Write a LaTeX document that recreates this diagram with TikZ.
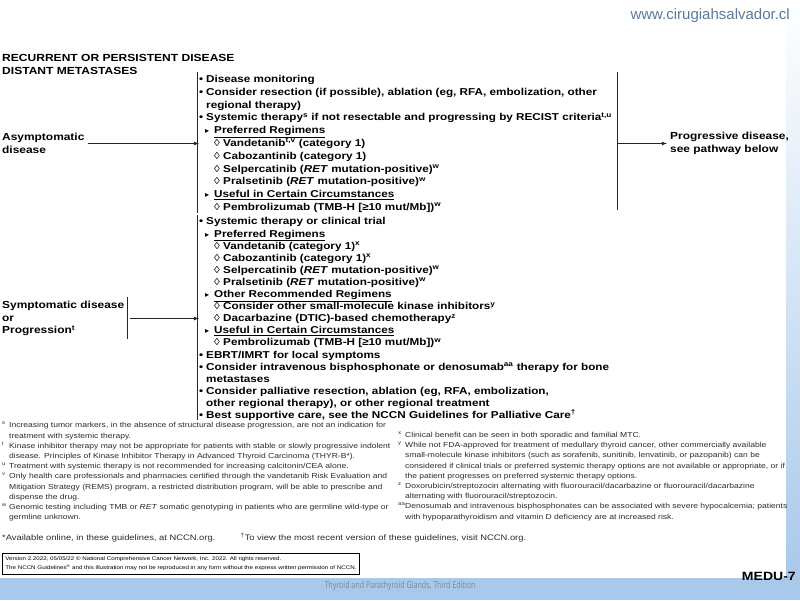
\documentclass[tikz,border=0pt]{standalone}
\usepackage{fontspec}
\setmainfont{Liberation Sans}[FakeStretch=1.17]
\newfontfamily\sitefont{Liberation Sans}
\newfontfamily\symfont{DejaVu Sans}
\newfontfamily\bandfont{Open Sans}[FakeStretch=0.75]
\usetikzlibrary{positioning}
\definecolor{urlblue}{HTML}{5A7A9A}
\definecolor{bandblue}{HTML}{A9C9EB}
\definecolor{bandtext}{HTML}{7F8790}
\definecolor{inkgray}{HTML}{2A2A2A}

\newcommand{\lvla}{\makebox[7pt][l]{•}}
\newcommand{\lvlb}{\hspace*{6pt}\makebox[9pt][l]{\symfont\fontsize{8}{8}\selectfont ▸}}
\newcommand{\lvlc}{\hspace*{15pt}\makebox[9pt][l]{\mdseries ◊}}
\newcommand{\cont}{\hspace*{7pt}}
\newcommand{\fn}[1]{\makebox[7pt][l]{\textsuperscript{#1}}}
\newcommand{\fncont}{\hspace*{7pt}}

\begin{document}
\begin{tikzpicture}[
x=1pt, y=-1pt,
heading/.style={
font=\bfseries\fontsize{10.3}{12.8}\selectfont,
align=left,
inner sep=0pt
},
stage/.style={
font=\bfseries\fontsize{10.2}{12.8}\selectfont,
align=left,
inner sep=3pt
},
plan/.style={
font=\bfseries\fontsize{10}{#1}\selectfont,
align=left,
inner sep=0pt
},
footnote/.style={
font=\fontsize{7.3}{10.2}\selectfont,
text=inkgray,
align=left,
inner sep=0pt
},
bar/.style={
line width=0.8pt,
color=black!85
},
arrow/.style={
->, >=latex,
line width=0.8pt,
color=black!85
}
]

\useasboundingbox (0,0) rectangle (800,600);

\shade[top color=white, bottom color=bandblue] (786,0) rectangle (800,578);
\fill[bandblue] (0,578) rectangle (800,600);

\node[anchor=base east, inner sep=0pt, font=\sitefont\fontsize{15}{15}\selectfont, text=urlblue]
(site) at (790,19) {www.cirugiahsalvador.cl};

\node[heading, anchor=north west] (title) at (2,54.5)
{RECURRENT OR PERSISTENT DISEASE\\
DISTANT METASTASES};

\node[stage, anchor=west] (asym) at (-1,143.5)
{Asymptomatic\\
disease};

\node[plan=12.8, anchor=north west] (asymtx) at (199,75)
{\lvla Disease monitoring\\
\lvla Consider resection (if possible), ablation (eg, RFA, embolization, other\\
\cont regional therapy)\\
\lvla Systemic therapy\textsuperscript{s} if not resectable and progressing by RECIST criteria\textsuperscript{t,u}\\
\lvlb \underline{Preferred Regimens}\\
\lvlc Vandetanib\textsuperscript{t,v} (category 1)\\
\lvlc Cabozantinib (category 1)\\
\lvlc Selpercatinib (\textit{RET} mutation-positive)\textsuperscript{w}\\
\lvlc Pralsetinib (\textit{RET} mutation-positive)\textsuperscript{w}\\
\lvlb \underline{Useful in Certain Circumstances}\\
\lvlc Pembrolizumab (TMB-H [≥10 mut/Mb])\textsuperscript{w}};

\coordinate (rtop) at (617,72);
\coordinate (rbot) at (617,210);

\node[stage, anchor=west] (prog) at (667,143.5)
{Progressive disease,\\
see pathway below};

\node[stage, anchor=west] (sympt) at (-1,318.5)
{Symptomatic disease\\
or\\
Progression\textsuperscript{t}};

\node[plan=12.1, anchor=north west] (symtx) at (199,217.5)
{\lvla Systemic therapy or clinical trial\\
\lvlb \underline{Preferred Regimens}\\
\lvlc Vandetanib (category 1)\textsuperscript{x}\\
\lvlc Cabozantinib (category 1)\textsuperscript{x}\\
\lvlc Selpercatinib (\textit{RET} mutation-positive)\textsuperscript{w}\\
\lvlc Pralsetinib (\textit{RET} mutation-positive)\textsuperscript{w}\\
\lvlb \underline{Other Recommended Regimens}\\
\lvlc Consider other small-molecule kinase inhibitors\textsuperscript{y}\\
\lvlc Dacarbazine (DTIC)-based chemotherapy\textsuperscript{z}\\
\lvlb \underline{Useful in Certain Circumstances}\\
\lvlc Pembrolizumab (TMB-H [≥10 mut/Mb])\textsuperscript{w}\\
\lvla EBRT/IMRT for local symptoms\\
\lvla Consider intravenous bisphosphonate or denosumab\textsuperscript{aa} therapy for bone\\
\cont metastases\\
\lvla Consider palliative resection, ablation (eg, RFA, embolization,\\
\cont other regional therapy), or other regional treatment\\
\lvla Best supportive care, see the NCCN Guidelines for Palliative Care\textsuperscript{†}};

\draw[bar] (197,72) -- (197,213);
\draw[bar] (rtop) -- (rbot);
\draw[bar] (197,215) -- (197,420);
\draw[bar] (sympt.north east) ++(0,-1) -- (sympt.south east);

\draw[arrow] (asym.east) -- (asym.east -| asymtx.west);
\draw[arrow] (rtop |- prog) -- (prog.west);
\draw[arrow] (sympt.east) ++(3,0) -- (sympt.east -| symtx.west);

\node[footnote, anchor=north west] (notesl) at (2,422)
{\fn{s}Increasing tumor markers, in the absence of structural disease progression, are not an indication for\\
\fncont treatment with systemic therapy.\\
\fn{t}Kinase inhibitor therapy may not be appropriate for patients with stable or slowly progressive indolent\\
\fncont disease. Principles of Kinase Inhibitor Therapy in Advanced Thyroid Carcinoma (THYR-B*).\\
\fn{u}Treatment with systemic therapy is not recommended for increasing calcitonin/CEA alone.\\
\fn{v}Only health care professionals and pharmacies certified through the vandetanib Risk Evaluation and\\
\fncont Mitigation Strategy (REMS) program, a restricted distribution program, will be able to prescribe and\\
\fncont dispense the drug.\\
\fn{w}Genomic testing including TMB or \textit{RET} somatic genotyping in patients who are germline wild-type or\\
\fncont germline unknown.};

\node[footnote, anchor=north west] (notesr) at (398,431.5)
{\fn{x}Clinical benefit can be seen in both sporadic and familial MTC.\\
\fn{y}While not FDA-approved for treatment of medullary thyroid cancer, other commercially available\\
\fncont small-molecule kinase inhibitors (such as sorafenib, sunitinib, lenvatinib, or pazopanib) can be\\
\fncont considered if clinical trials or preferred systemic therapy options are not available or appropriate, or if\\
\fncont the patient progresses on preferred systemic therapy options.\\
\fn{z}Doxorubicin/streptozocin alternating with fluorouracil/dacarbazine or fluorouracil/dacarbazine\\
\fncont alternating with fluorouracil/streptozocin.\\
\makebox[7pt][l]{\textsuperscript{aa}}Denosumab and intravenous bisphosphonates can be associated with severe hypocalcemia; patients\\
\fncont with hypoparathyroidism and vitamin D deficiency are at increased risk.};

\node[anchor=base west, inner sep=0pt, font=\fontsize{8}{8}\selectfont, text=inkgray]
(online) at (2,540.5)
{*Available online, in these guidelines, at NCCN.org.\hspace{25pt}\textsuperscript{†}To view the most recent version of these guidelines, visit NCCN.org.};

\node[draw, line width=0.8pt, anchor=north west, align=left, inner sep=3pt,
font=\fontsize{5.3}{9.6}\selectfont] (rights) at (2,553)
{Version 2.2022, 05/05/22 © National Comprehensive Cancer Network, Inc. 2022. All rights reserved.\\
The NCCN Guidelines\textsuperscript{®} and this illustration may not be reproduced in any form without the express written permission of NCCN.};

\node[anchor=base east, inner sep=0pt, font=\bfseries\fontsize{12}{12}\selectfont]
(page) at (796,580.5) {MEDU-7};

\node[inner sep=0pt, font=\bandfont\fontsize{9.5}{9.5}\selectfont, text=bandtext]
(book) at (400,586) {Thyroid and Parathyroid Glands, Third Edition};

\end{tikzpicture}
\end{document}
